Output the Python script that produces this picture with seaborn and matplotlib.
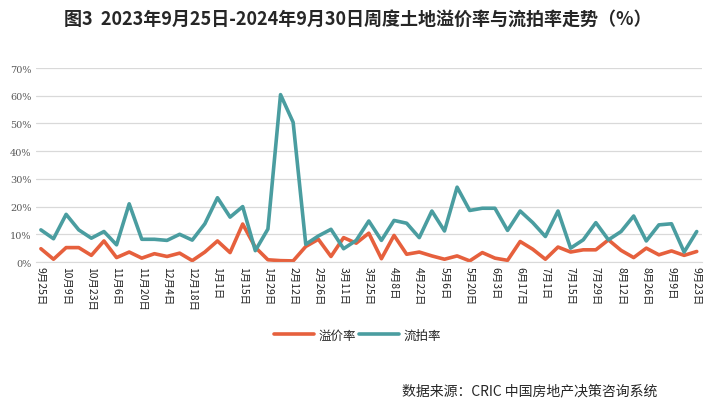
import numpy as np
import pandas as pd
import matplotlib
matplotlib.use("Agg")
import matplotlib.pyplot as plt
import seaborn as sns

# Weekly data, 2023-09-25 .. 2024-09-23 (percent)
premium_rate = [4.8, 1.0, 5.2, 5.2, 2.4, 7.6, 1.6, 3.6, 1.4, 3.0,
                2.0, 3.2, 0.5, 3.6, 7.6, 3.4, 13.7, 5.3, 0.8, 0.5,
                0.4, 5.6, 8.2, 2.0, 8.8, 6.8, 10.4, 1.2, 9.6, 2.8,
                3.6, 2.2, 1.0, 2.2, 0.4, 3.4, 1.4, 0.6, 7.4, 4.6,
                1.0, 5.4, 3.6, 4.4, 4.4, 8.0, 4.2, 1.6, 5.0, 2.6,
                4.0, 2.4, 3.8]
failed_rate = [11.6, 8.4, 17.2, 11.6, 8.6, 11.0, 6.2, 21.0, 8.2, 8.2,
               7.8, 10.0, 7.9, 13.8, 23.2, 16.2, 20.0, 4.1, 11.9, 60.4,
               50.4, 6.4, 9.4, 11.8, 4.8, 7.8, 14.8, 7.8, 15.0, 14.0,
               8.8, 18.4, 11.2, 27.0, 18.6, 19.4, 19.4, 11.4, 18.4, 14.2,
               9.2, 18.4, 5.0, 8.0, 14.2, 8.0, 11.0, 16.6, 7.6, 13.4,
               13.8, 3.6, 11.0]
tick_labels = ["9月25日", "10月9日", "10月23日", "11月6日", "11月20日", "12月4日",
               "12月18日", "1月1日", "1月15日", "1月29日", "2月12日", "2月26日",
               "3月11日", "3月25日", "4月8日", "4月22日", "5月6日", "5月20日",
               "6月3日", "6月17日", "7月1日", "7月15日", "7月29日", "8月12日",
               "8月26日", "9月9日", "9月23日"]

df = pd.DataFrame({"week": np.arange(len(premium_rate)),
                   "溢价率": premium_rate,
                   "流拍率": failed_rate})

sns.set_style("white")
plt.rcParams['font.family'] = ['Noto Sans CJK SC', 'DejaVu Sans']

fig = plt.figure(figsize=(7.12, 4.14), dpi=100)
ax = fig.add_axes([0.050, 0.3647, 0.936, 0.4686])

sns.lineplot(data=df, x="week", y="溢价率", ax=ax, color="#E6603D", linewidth=2.6, label="溢价率")
sns.lineplot(data=df, x="week", y="流拍率", ax=ax, color="#4A9DA0", linewidth=2.6, label="流拍率")

ax.set_xlim(-0.42, len(premium_rate) - 1 + 0.42)
ax.set_ylim(0, 70)
ax.set_yticks(range(0, 71, 10))
ax.set_yticklabels([f"{v}%" for v in range(0, 71, 10)], fontsize=7, color="#595959",
                   family=['DejaVu Serif'])
ax.set_xticks(np.arange(0, len(premium_rate), 2))
ax.set_xticklabels(tick_labels, rotation=-90, fontsize=7.5, color="#222222")
ax.tick_params(axis="both", length=0, pad=3)
ax.set_xlabel("")
ax.set_ylabel("")
ax.grid(axis="y", color="#D9D9D9", linewidth=0.9)
for s in ["top", "right", "left"]:
    ax.spines[s].set_visible(False)
ax.spines["bottom"].set_color("#D9D9D9")

ax.get_legend().remove()
handles, labels = ax.get_legend_handles_labels()
fig.legend(handles, labels, loc="center", bbox_to_anchor=(0.502, 0.188), ncol=2,
           frameon=False, fontsize=9, handlelength=3.2, handletextpad=0.3, columnspacing=0.3)

fig.text(0.502, 0.953, "图3  2023年9月25日-2024年9月30日周度土地溢价率与流拍率走势（%）",
         ha="center", va="center", fontsize=13, fontweight="bold")
fig.text(0.565, 0.055, "数据来源：CRIC 中国房地产决策咨询系统",
         ha="left", va="center", fontsize=10)

fig.savefig("out.png", dpi=100)
